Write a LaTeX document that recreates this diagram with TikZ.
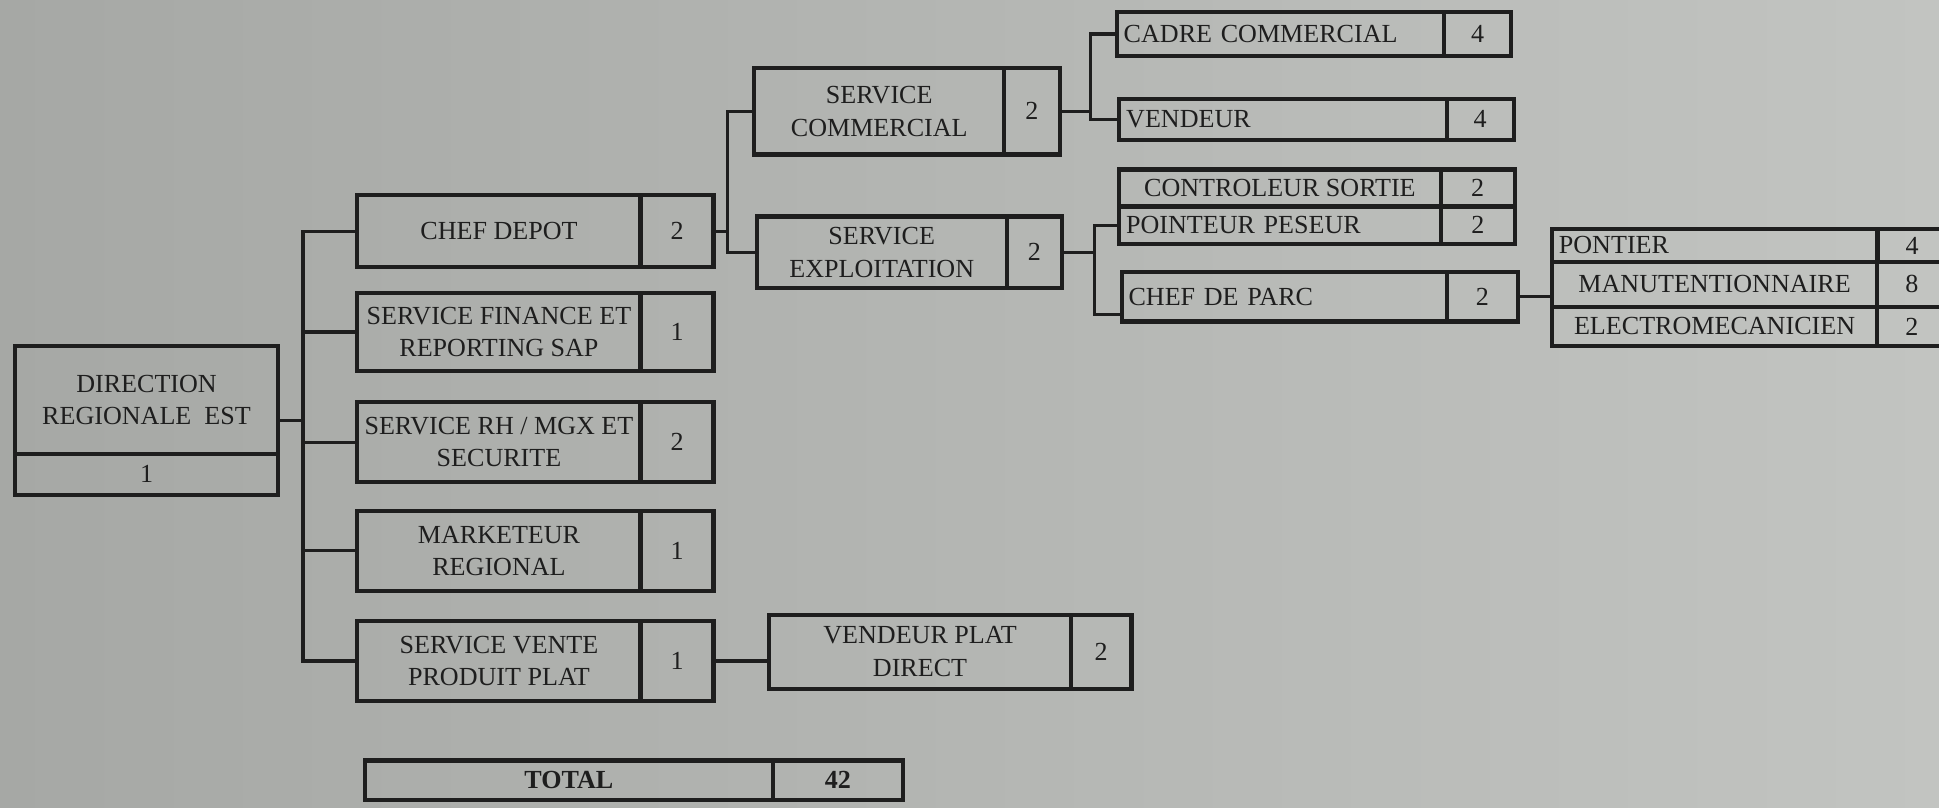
\documentclass[tikz,border=0pt]{standalone}
\usepackage{fontspec}
\setmainfont{Liberation Serif}
\usetikzlibrary{calc}
\definecolor{my_ink}{HTML}{1E1E1E}
\definecolor{my_paperdark}{HTML}{A6A8A5}
\definecolor{my_paperlight}{HTML}{C2C4C1}
\newcommand{\orgfont}{\fontsize{7.5}{9.4}\selectfont}

\begin{document}
\begin{tikzpicture}[
    box/.style={draw=my_ink, line width=1.2pt, inner sep=1pt, outer sep=0pt,
        align=center, font=\orgfont, text=my_ink},
    lbox/.style={box, align=left, inner xsep=2pt},
    cnt/.style={box, anchor=north west},
    link/.style={draw=my_ink, line width=0.9pt}
]

% ---------------------------------------------------------------
%  Organigramme : Direction Regionale Est, effectif total 42
% ---------------------------------------------------------------

% Fond (photo)
\useasboundingbox (0, 0) rectangle (19.6, -8.1625);
\clip (0, 0) rectangle (19.6, -8.1625);
\shade[left color=my_paperdark, right color=my_paperlight] (0, 0) rectangle (19.6, -8.1625);

% Direction
\node[box, anchor=north west, minimum width=2.6625cm, minimum height=1.0875cm] (root)
    at (0.15, -3.5) {DIRECTION\\REGIONALE~~EST};
\node[cnt, minimum width=2.6625cm, minimum height=0.4125cm] (rootN) at (root.south west) {1};

% Niveau 1
\node[box, anchor=north west, minimum width=2.8625cm, minimum height=0.725cm] (depot)
    at (3.6125, -1.975) {CHEF DEPOT};
\node[cnt, minimum width=0.7375cm, minimum height=0.725cm] (depotN) at (depot.north east) {2};
\node[box, anchor=north west, minimum width=2.8625cm, minimum height=0.7875cm] (finance)
    at (3.6125, -2.9625) {SERVICE FINANCE ET\\REPORTING SAP};
\node[cnt, minimum width=0.7375cm, minimum height=0.7875cm] (financeN) at (finance.north east) {1};
\node[box, anchor=north west, minimum width=2.8625cm, minimum height=0.8125cm] (rh)
    at (3.6125, -4.0625) {SERVICE RH / MGX ET\\SECURITE};
\node[cnt, minimum width=0.7375cm, minimum height=0.8125cm] (rhN) at (rh.north east) {2};
\node[box, anchor=north west, minimum width=2.8625cm, minimum height=0.8125cm] (marketeur)
    at (3.6125, -5.1625) {MARKETEUR\\REGIONAL};
\node[cnt, minimum width=0.7375cm, minimum height=0.8125cm] (marketeurN) at (marketeur.north east) {1};
\node[box, anchor=north west, minimum width=2.8625cm, minimum height=0.8125cm] (vente)
    at (3.6125, -6.275) {SERVICE VENTE\\PRODUIT PLAT};
\node[cnt, minimum width=0.7375cm, minimum height=0.8125cm] (venteN) at (vente.north east) {1};

\node[box, anchor=north west, minimum width=3.05cm, minimum height=0.75cm] (plat)
    at (7.775, -6.2125) {VENDEUR PLAT\\DIRECT};
\node[cnt, minimum width=0.6125cm, minimum height=0.75cm] (platN) at (plat.north east) {2};

% Total
\node[box, anchor=north west, minimum width=4.125cm, minimum height=0.4cm, font=\orgfont\bfseries] (total)
    at (3.6875, -7.6875) {TOTAL};
\node[cnt, minimum width=1.3125cm, minimum height=0.4cm, font=\orgfont\bfseries] (totalN) at (total.north east) {42};

% Niveau 2
\node[box, anchor=north west, minimum width=2.525cm, minimum height=0.875cm] (scom)
    at (7.625, -0.6875) {SERVICE\\COMMERCIAL};
\node[cnt, minimum width=0.5625cm, minimum height=0.875cm] (scomN) at (scom.north east) {2};
\node[box, anchor=north west, minimum width=2.525cm, minimum height=0.725cm] (sexp)
    at (7.65, -2.1875) {SERVICE\\EXPLOITATION};
\node[cnt, minimum width=0.5625cm, minimum height=0.725cm] (sexpN) at (sexp.north east) {2};

% Niveau 3
\node[lbox, anchor=north west, text width=3.17cm, minimum width=3.3125cm, minimum height=0.4375cm] (cadre)
    at (11.2875, -0.125) {CADRE COMMERCIAL};
\node[cnt, minimum width=0.675cm, minimum height=0.4375cm] (cadreN) at (cadre.north east) {4};
\node[lbox, anchor=north west, text width=3.17cm, minimum width=3.3125cm, minimum height=0.4125cm] (vendeur)
    at (11.3125, -1.0) {VENDEUR};
\node[cnt, minimum width=0.675cm, minimum height=0.4125cm] (vendeurN) at (vendeur.north east) {4};

\node[box, anchor=north west, minimum width=3.25cm, minimum height=0.375cm] (ctrl)
    at (11.3125, -1.7125) {CONTROLEUR SORTIE};
\node[cnt, minimum width=0.75cm, minimum height=0.375cm] (ctrlN) at (ctrl.north east) {2};
\node[lbox, anchor=north west, text width=3.11cm, minimum width=3.25cm, minimum height=0.375cm] (pointeur)
    at (ctrl.south west) {POINTEUR PESEUR};
\node[cnt, minimum width=0.75cm, minimum height=0.375cm] (pointeurN) at (pointeur.north east) {2};
\node[lbox, anchor=north west, text width=3.15cm, minimum width=3.2875cm, minimum height=0.5cm] (parc)
    at (11.3375, -2.75) {CHEF DE PARC};
\node[cnt, minimum width=0.7125cm, minimum height=0.5cm] (parcN) at (parc.north east) {2};

% Niveau 4
\node[lbox, anchor=north west, text width=3.15cm, minimum width=3.2875cm, minimum height=0.3375cm] (pontier)
    at (15.6875, -2.3125) {PONTIER};
\node[cnt, minimum width=0.7cm, minimum height=0.3375cm] (pontierN) at (pontier.north east) {4};
\node[box, anchor=north west, minimum width=3.2875cm, minimum height=0.45cm] (manut)
    at (pontier.south west) {MANUTENTIONNAIRE};
\node[cnt, minimum width=0.7cm, minimum height=0.45cm] (manutN) at (manut.north east) {8};
\node[box, anchor=north west, minimum width=3.2875cm, minimum height=0.4cm] (electro)
    at (manut.south west) {ELECTROMECANICIEN};
\node[cnt, minimum width=0.7cm, minimum height=0.4cm] (electroN) at (electro.north east) {2};

% Liaisons
\coordinate (rootmid) at ($(root.north east)!0.5!(rootN.south east)$);
\coordinate (bus0) at (3.0625, 0);
\coordinate (bus1) at (7.35, 0);
\coordinate (bus2) at (11.025, 0);
\coordinate (bus3) at (11.0625, 0);

\draw[link] (rootmid) -- (rootmid -| bus0);
\draw[link] (depot.west) -- (depot.west -| bus0) |- (vente.west);
\foreach \n in {finance, rh, marketeur}
    \draw[link] (\n.west) -- (\n.west -| bus0);
\draw[link] (venteN.east) -- (venteN.east -| plat.west);

\draw[link] (depotN.east) -- (depotN.east -| bus1);
\draw[link] (scom.west) -- (scom.west -| bus1) |- (sexp.west);

\draw[link] (scomN.east) -- (scomN.east -| bus2);
\draw[link] (cadre.west) -- (cadre.west -| bus2) |- (vendeur.west);

\draw[link] (sexpN.east) -- (sexpN.east -| bus3);
\draw[link] (pointeur.west) -- (pointeur.west -| bus3) |- ([yshift=2pt]parc.south west);

\draw[link] (parcN.east) -- (parcN.east -| manut.west);

\end{tikzpicture}
\end{document}
